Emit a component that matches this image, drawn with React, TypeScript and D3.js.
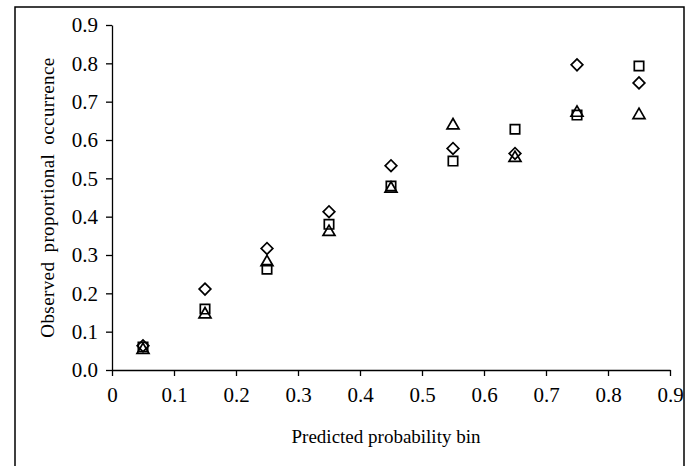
import React, { useEffect, useRef } from 'react';
import * as d3 from 'd3';

const bins = [0.05, 0.15, 0.25, 0.35, 0.45, 0.55, 0.65, 0.75, 0.85];
const diamondValues = [0.063, 0.211, 0.317, 0.413, 0.533, 0.578, 0.565, 0.796, 0.749];
const squareValues = [0.06, 0.159, 0.263, 0.38, 0.48, 0.545, 0.628, 0.665, 0.793];
const triangleValues = [0.052, 0.145, 0.281, 0.36, 0.473, 0.638, 0.553, 0.671, 0.665];
const xTicks = [0, 0.1, 0.2, 0.3, 0.4, 0.5, 0.6, 0.7, 0.8, 0.9];
const yTicks = [0, 0.1, 0.2, 0.3, 0.4, 0.5, 0.6, 0.7, 0.8, 0.9];

const width = 691;
const height = 466;
const margin = { left: 112, right: 21, top: 25, bottom: 96 };
const serif = 'Liberation Serif, serif';

const App = () => {
  const ref = useRef<SVGSVGElement>(null);

  useEffect(() => {
    const svg = d3.select(ref.current);
    svg.selectAll('*').remove();

    const x = d3.scaleLinear().domain([0, 0.9]).range([margin.left, width - margin.right]);
    const y = d3.scaleLinear().domain([0, 0.9]).range([height - margin.bottom, margin.top]);

    // outer frame, bottom edge runs off the page
    svg
      .append('rect')
      .attr('x', 15)
      .attr('y', 7)
      .attr('width', 669)
      .attr('height', 480)
      .attr('fill', 'none')
      .attr('stroke', '#000')
      .attr('stroke-width', 1.5);

    const yAxis = svg
      .append('g')
      .attr('transform', `translate(${x(0)},0)`)
      .call(d3.axisLeft(y).tickValues(yTicks).tickSize(6).tickSizeOuter(0).tickPadding(8).tickFormat(d3.format('.1f')));

    const xAxis = svg
      .append('g')
      .attr('transform', `translate(0,${y(0)})`)
      .call(
        d3
          .axisBottom(x)
          .tickValues(xTicks)
          .tickSize(6)
          .tickSizeOuter(0)
          .tickPadding(11)
          .tickFormat((d) => (d === 0 ? '0' : d3.format('.1f')(d as number)))
      );

    [xAxis, yAxis].forEach((ax) => {
      ax.selectAll('path,line').attr('stroke', '#000').attr('stroke-width', 1.3);
      ax.selectAll('text')
        .attr('fill', '#000')
        .attr('font-family', serif)
        .attr('font-size', 21);
    });

    svg
      .append('text')
      .attr('x', 386)
      .attr('y', 443)
      .attr('text-anchor', 'middle')
      .attr('font-family', serif)
      .attr('font-size', 19)
      .text('Predicted probability bin');

    svg
      .append('text')
      .attr('transform', `translate(54,${(y(0.9) + y(0)) / 2}) rotate(-90)`)
      .attr('text-anchor', 'middle')
      .attr('font-family', serif)
      .attr('font-size', 19)
      .attr('letter-spacing', 0.4)
      .attr('word-spacing', 4)
      .text('Observed proportional occurrence');

    const series = [
      { name: 'diamond', values: diamondValues, type: d3.symbolSquare, size: 68, rotate: 45 },
      { name: 'square', values: squareValues, type: d3.symbolSquare, size: 88, rotate: 0 },
      { name: 'triangle', values: triangleValues, type: d3.symbolTriangle, size: 62, rotate: 0 },
    ];

    series.forEach((s) => {
      svg
        .append('g')
        .selectAll('path')
        .data(s.values)
        .enter()
        .append('path')
        .attr('d', d3.symbol().type(s.type).size(s.size))
        .attr('transform', (v, i) => `translate(${x(bins[i])},${y(v)}) rotate(${s.rotate})`)
        .attr('fill', 'none')
        .attr('stroke', '#000')
        .attr('stroke-width', 1.7);
    });
  }, []);

  return (
    <svg
      ref={ref}
      width={width}
      height={height}
      style={{ position: 'absolute', left: 0, top: 0, background: '#fff' }}
    />
  );
};

export default App;
